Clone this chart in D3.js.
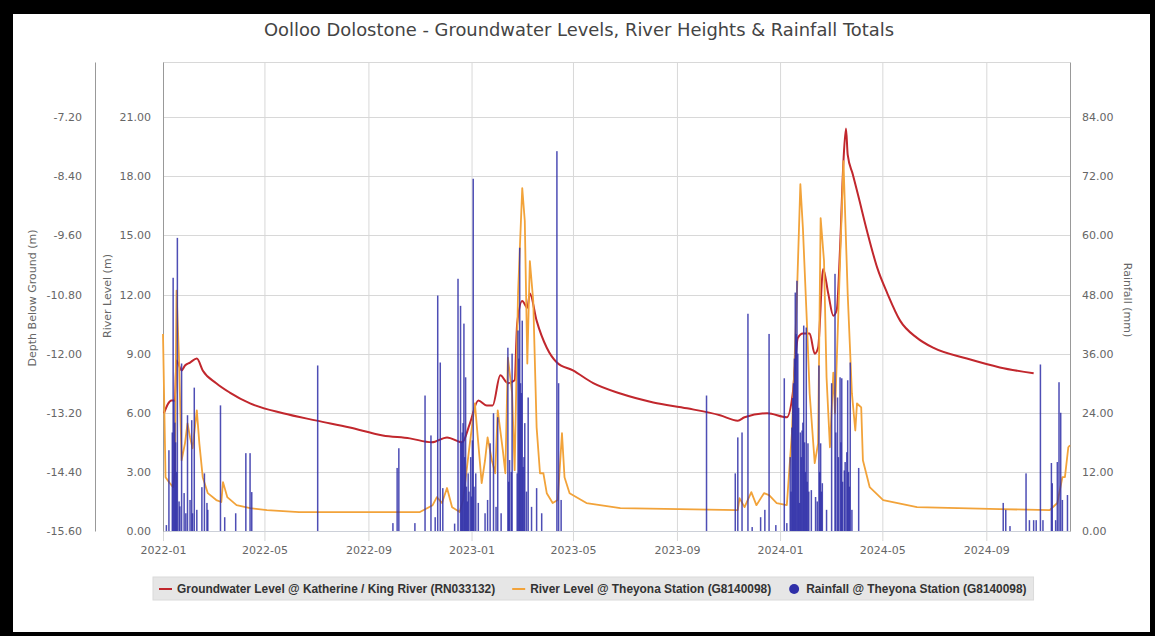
<!DOCTYPE html>
<html>
<head>
<meta charset="utf-8">
<script src="https://cdn.jsdelivr.net/npm/d3@7"></script>
<style>
    body { margin: 0; background: #000; }
    .chart { width: 1155px; height: 636px; }
</style>
</head>
<body>
<div class="chart"></div>
<script>
(function () {
    'use strict';

    // groundwater, depth below ground (m)
    const groundwater = [
        ['2022-01-02', -13.21], ['2022-01-11', -12.95], ['2022-01-15', -12.95], ['2022-01-17', -12.14],
        ['2022-01-23', -12.34], ['2022-01-27', -12.24], ['2022-02-02', -12.18], ['2022-02-10', -12.10],
        ['2022-02-17', -12.34], ['2022-03-05', -12.60], ['2022-03-21', -12.79], ['2022-04-14', -13.01],
        ['2022-05-23', -13.21], ['2022-07-02', -13.36], ['2022-08-10', -13.50], ['2022-09-18', -13.66],
        ['2022-10-20', -13.72], ['2022-11-15', -13.80], ['2022-12-03', -13.70], ['2022-12-21', -13.80],
        ['2022-12-30', -13.42], ['2023-01-09', -12.95], ['2023-01-19', -13.05], ['2023-01-26', -13.05],
        ['2023-02-04', -12.44], ['2023-02-13', -12.60], ['2023-02-21', -12.54], ['2023-02-24', -11.39],
        ['2023-03-02', -10.93], ['2023-03-08', -11.07], ['2023-03-11', -10.78], ['2023-03-19', -11.33],
        ['2023-03-31', -11.88], ['2023-04-12', -12.18], ['2023-05-01', -12.34], ['2023-05-25', -12.60],
        ['2023-06-26', -12.81], ['2023-08-04', -12.99], ['2023-09-13', -13.11], ['2023-10-22', -13.25],
        ['2023-11-12', -13.36], ['2023-11-20', -13.29], ['2023-12-17', -13.21], ['2024-01-09', -13.29],
        ['2024-01-16', -12.81], ['2024-01-22', -11.68], ['2024-01-28', -11.59], ['2024-02-05', -11.59],
        ['2024-02-11', -12.00], ['2024-02-15', -11.88], ['2024-02-21', -10.28], ['2024-02-27', -10.78],
        ['2024-03-04', -11.23], ['2024-03-08', -11.12], ['2024-03-12', -9.85], ['2024-03-16', -8.09],
        ['2024-03-19', -7.43], ['2024-03-21', -7.96], ['2024-03-27', -8.36], ['2024-04-02', -8.76],
        ['2024-04-13', -9.52], ['2024-04-25', -10.26], ['2024-05-07', -10.78], ['2024-05-22', -11.33],
        ['2024-06-11', -11.68], ['2024-06-30', -11.88], ['2024-08-09', -12.10], ['2024-09-17', -12.28],
        ['2024-10-27', -12.40]
    ];

    // river level (m)
    const riverLevel = [
        ['2022-01-01', 10.0], ['2022-01-04', 2.73], ['2022-01-09', 2.43], ['2022-01-13', 2.23],
        ['2022-01-15', 3.0], ['2022-01-17', 12.2], ['2022-01-20', 8.65], ['2022-01-23', 3.59],
        ['2022-01-27', 4.45], ['2022-01-30', 5.46], ['2022-02-02', 4.75], ['2022-02-05', 4.2],
        ['2022-02-10', 6.12], ['2022-02-13', 4.45], ['2022-02-17', 2.73], ['2022-02-23', 1.92],
        ['2022-03-05', 1.57], ['2022-03-11', 1.47], ['2022-03-13', 2.48], ['2022-03-18', 1.72],
        ['2022-03-29', 1.31], ['2022-04-14', 1.16], ['2022-05-04', 1.06], ['2022-06-11', 0.96],
        ['2022-11-01', 0.96], ['2022-11-16', 1.31], ['2022-11-21', 1.72], ['2022-11-27', 1.42],
        ['2022-12-03', 2.18], ['2022-12-09', 1.21], ['2022-12-18', 0.96], ['2022-12-22', 1.57],
        ['2022-12-30', 4.45], ['2023-01-05', 6.47], ['2023-01-09', 4.45], ['2023-01-13', 2.43],
        ['2023-01-17', 3.59], ['2023-01-20', 4.75], ['2023-01-25', 3.59], ['2023-01-29', 2.93],
        ['2023-02-01', 6.12], ['2023-02-07', 4.1], ['2023-02-10', 2.93], ['2023-02-13', 8.8],
        ['2023-02-18', 7.0], ['2023-02-21', 3.09], ['2023-02-25', 12.04], ['2023-03-02', 17.4],
        ['2023-03-05', 15.73], ['2023-03-08', 8.5], ['2023-03-11', 13.7], ['2023-03-15', 11.68],
        ['2023-03-19', 5.26], ['2023-03-23', 2.93], ['2023-03-27', 2.93], ['2023-03-31', 1.92],
        ['2023-04-07', 1.42], ['2023-04-13', 1.57], ['2023-04-18', 4.96], ['2023-04-21', 2.73],
        ['2023-04-27', 1.92], ['2023-05-17', 1.42], ['2023-06-26', 1.16], ['2023-11-12', 1.06],
        ['2023-11-14', 1.67], ['2023-11-20', 1.21], ['2023-11-28', 1.97], ['2023-12-04', 1.31],
        ['2023-12-13', 1.92], ['2023-12-19', 1.82], ['2023-12-28', 1.42], ['2024-01-09', 1.31],
        ['2024-01-15', 4.96], ['2024-01-21', 12.04], ['2024-01-25', 17.6], ['2024-01-28', 15.38],
        ['2024-02-02', 10.32], ['2024-02-05', 6.98], ['2024-02-11', 3.44], ['2024-02-15', 4.45],
        ['2024-02-18', 15.88], ['2024-02-22', 13.7], ['2024-02-25', 7.79], ['2024-02-29', 4.25],
        ['2024-03-04', 8.04], ['2024-03-06', 5.97], ['2024-03-12', 13.7], ['2024-03-16', 18.77],
        ['2024-03-21', 12.04], ['2024-03-26', 6.98], ['2024-03-30', 5.1], ['2024-04-01', 6.47],
        ['2024-04-06', 6.27], ['2024-04-08', 3.59], ['2024-04-16', 2.23], ['2024-05-02', 1.57],
        ['2024-06-11', 1.21], ['2024-09-17', 1.11], ['2024-11-15', 1.06], ['2024-11-24', 1.42],
        ['2024-11-30', 2.73], ['2024-12-03', 2.73], ['2024-12-07', 4.25], ['2024-12-09', 4.35]
    ];

    // daily rainfall (mm)
    const rainfall = [
        ['2022-01-05', 1.2], ['2022-01-08', 16.4], ['2022-01-12', 20.0], ['2022-01-13', 51.4],
        ['2022-01-14', 26.5], ['2022-01-15', 22.0], ['2022-01-16', 18.0], ['2022-01-17', 12.0],
        ['2022-01-18', 59.5], ['2022-01-20', 6.0], ['2022-01-21', 5.0], ['2022-01-23', 34.0],
        ['2022-01-26', 7.7], ['2022-01-28', 3.6], ['2022-01-30', 23.5], ['2022-02-02', 6.3],
        ['2022-02-04', 22.5], ['2022-02-05', 3.6], ['2022-02-07', 29.1], ['2022-02-10', 4.3],
        ['2022-02-16', 8.9], ['2022-02-19', 11.7], ['2022-02-22', 5.7], ['2022-02-23', 4.3],
        ['2022-03-10', 25.5], ['2022-03-15', 2.8], ['2022-03-28', 3.6], ['2022-04-09', 15.8],
        ['2022-04-14', 15.8], ['2022-04-16', 7.9], ['2022-07-03', 33.6],
        ['2022-09-30', 1.6], ['2022-10-05', 12.8], ['2022-10-07', 16.8], ['2022-10-26', 1.6],
        ['2022-11-07', 27.5], ['2022-11-14', 19.4], ['2022-11-19', 2.8], ['2022-11-22', 47.8],
        ['2022-11-25', 34.2], ['2022-11-28', 8.7], ['2022-12-12', 1.5], ['2022-12-16', 51.2],
        ['2022-12-19', 45.7], ['2022-12-20', 18.0], ['2022-12-21', 20.0], ['2022-12-22', 21.9],
        ['2022-12-23', 42.1], ['2022-12-24', 15.0], ['2022-12-25', 31.2], ['2022-12-26', 9.0],
        ['2022-12-27', 6.0], ['2022-12-28', 11.7], ['2022-12-29', 8.0], ['2022-12-31', 15.0],
        ['2023-01-01', 7.0], ['2023-01-02', 18.4], ['2023-01-03', 71.5], ['2023-01-04', 9.0],
        ['2023-01-06', 11.7], ['2023-01-09', 5.7], ['2023-01-17', 3.6], ['2023-01-20', 6.3],
        ['2023-01-23', 17.8], ['2023-01-27', 23.9], ['2023-01-30', 4.9], ['2023-02-01', 23.1],
        ['2023-02-05', 3.6], ['2023-02-13', 37.2], ['2023-02-14', 10.0], ['2023-02-15', 14.4],
        ['2023-02-17', 12.0], ['2023-02-18', 36.0], ['2023-02-24', 11.7], ['2023-02-25', 40.7],
        ['2023-02-26', 35.0], ['2023-02-27', 57.5], ['2023-02-28', 30.0], ['2023-03-01', 28.0],
        ['2023-03-02', 42.7], ['2023-03-03', 13.0], ['2023-03-04', 15.0], ['2023-03-05', 21.9],
        ['2023-03-07', 8.0], ['2023-03-09', 27.1], ['2023-03-13', 4.9], ['2023-03-19', 8.7],
        ['2023-03-25', 3.6], ['2023-04-12', 77.1], ['2023-04-14', 30.0], ['2023-04-17', 6.3],
        ['2023-10-06', 27.5], ['2023-11-09', 11.7], ['2023-11-12', 19.0], ['2023-11-17', 20.0],
        ['2023-11-24', 44.1], ['2023-11-29', 0.8], ['2023-12-09', 2.8], ['2023-12-14', 4.3],
        ['2023-12-19', 40.0], ['2023-12-27', 1.2], ['2024-01-06', 31.0], ['2024-01-09', 1.6],
        ['2024-01-13', 15.0], ['2024-01-14', 8.0], ['2024-01-15', 21.0], ['2024-01-16', 27.0],
        ['2024-01-17', 30.0], ['2024-01-18', 35.0], ['2024-01-19', 48.4], ['2024-01-20', 40.0],
        ['2024-01-21', 50.8], ['2024-01-22', 36.0], ['2024-01-23', 25.0], ['2024-01-24', 5.7],
        ['2024-01-25', 20.0], ['2024-01-26', 15.0], ['2024-01-27', 20.4], ['2024-01-28', 22.0],
        ['2024-01-29', 41.7], ['2024-01-30', 18.0], ['2024-01-31', 12.0], ['2024-02-01', 41.3],
        ['2024-02-02', 10.0], ['2024-02-03', 17.8], ['2024-02-04', 8.0], ['2024-02-07', 8.3],
        ['2024-02-12', 6.9], ['2024-02-14', 6.0], ['2024-02-16', 33.6], ['2024-02-17', 12.0],
        ['2024-02-18', 17.8], ['2024-02-19', 8.0], ['2024-02-20', 9.7], ['2024-02-25', 4.3],
        ['2024-03-02', 30.0], ['2024-03-06', 52.2], ['2024-03-07', 20.0], ['2024-03-09', 27.1],
        ['2024-03-10', 15.0], ['2024-03-12', 31.2], ['2024-03-13', 18.0], ['2024-03-14', 31.0],
        ['2024-03-15', 10.0], ['2024-03-17', 12.3], ['2024-03-18', 14.0], ['2024-03-20', 16.0],
        ['2024-03-21', 30.6], ['2024-03-22', 12.0], ['2024-03-23', 9.0], ['2024-03-24', 34.2],
        ['2024-03-26', 4.3], ['2024-04-03', 12.8],
        ['2024-09-21', 5.7], ['2024-09-24', 4.3], ['2024-09-29', 1.0], ['2024-10-18', 11.7],
        ['2024-10-22', 2.2], ['2024-10-27', 2.2], ['2024-10-30', 2.2], ['2024-11-04', 33.8],
        ['2024-11-07', 2.2], ['2024-11-17', 13.8], ['2024-11-18', 9.7], ['2024-11-22', 2.2],
        ['2024-11-24', 14.0], ['2024-11-26', 30.2], ['2024-11-28', 24.0], ['2024-11-30', 6.3],
        ['2024-12-06', 7.3]
    ];

    const xTicks = ['2022-01-01', '2022-05-01', '2022-09-01', '2023-01-01', '2023-05-01',
        '2023-09-01', '2024-01-01', '2024-05-01', '2024-09-01'];
    const riverTicks = [0, 3, 6, 9, 12, 15, 18, 21];
    const depthTicks = [-15.6, -14.4, -13.2, -12.0, -10.8, -9.6, -8.4, -7.2];
    const rainTicks = [0, 12, 24, 36, 48, 60, 72, 84];

    const titleText = 'Oolloo Dolostone - Groundwater Levels, River Heights & Rainfall Totals';
    const legendNames = [
        'Groundwater Level @ Katherine / King River (RN033132)',
        'River Level @ Theyona Station (G8140098)',
        'Rainfall @ Theyona Station (G8140098)'
    ];

    const font = '"DejaVu Sans", "Open Sans", sans-serif';
    const parse = d3.utcParse('%Y-%m-%d');

    const plot = { left: 163, right: 1070, top: 62, bottom: 531 };

    const svg = d3.select('.chart').append('svg')
        .attr('width', 1155)
        .attr('height', 636)
        .style('display', 'block');

    svg.append('rect').attr('width', 1155).attr('height', 636).attr('fill', '#000');
    svg.append('rect').attr('x', 13).attr('y', 14).attr('width', 1137).attr('height', 618).attr('fill', '#fff');

    const x = d3.scaleUtc()
        .domain([parse('2022-01-01'), parse('2024-12-09')])
        .range([plot.left, plot.right]);
    const yRiver = d3.scaleLinear().domain([0, 23.8]).range([plot.bottom, plot.top]);
    const yDepth = d3.scaleLinear().domain([-15.6, -15.6 + 0.4 * 23.8]).range([plot.bottom, plot.top]);
    const yRain = d3.scaleLinear().domain([0, 23.8 * 4]).range([plot.bottom, plot.top]);

    // horizontal grid
    svg.append('g').selectAll('line')
        .data(riverTicks.concat([23.8]))
        .enter().append('line')
        .attr('x1', plot.left).attr('x2', plot.right)
        .attr('y1', function (d) { return Math.round(yRiver(d)) + 0.5; })
        .attr('y2', function (d) { return Math.round(yRiver(d)) + 0.5; })
        .attr('stroke', '#d8d8d8');

    // x axis with vertical grid
    const xAxis = svg.append('g')
        .attr('transform', 'translate(0,' + plot.bottom + ')')
        .call(d3.axisBottom(x)
            .tickValues(xTicks.map(parse))
            .tickFormat(d3.utcFormat('%Y-%m'))
            .tickSizeInner(10)
            .tickSizeOuter(0)
            .tickPadding(5));
    xAxis.select('.domain').attr('stroke', '#ccd0d8');
    xAxis.selectAll('line').attr('stroke', '#d8d8d8').attr('y1', 10).attr('y2', plot.top - plot.bottom);
    xAxis.selectAll('text').attr('fill', '#666').style('font-family', font).style('font-size', '11px');

    const styleAxis = function (g) {
        g.select('.domain').attr('stroke', '#999');
        g.selectAll('text').attr('fill', '#666').style('font-family', font).style('font-size', '11px');
    };

    svg.append('g').attr('transform', 'translate(' + plot.left + ',0)')
        .call(d3.axisLeft(yRiver).tickValues(riverTicks).tickSize(0).tickPadding(12)
            .tickFormat(function (d) { return d.toFixed(2); }))
        .call(styleAxis);

    svg.append('g').attr('transform', 'translate(95,0)')
        .call(d3.axisLeft(yDepth).tickValues(depthTicks).tickSize(0).tickPadding(13)
            .tickFormat(function (d) { return d.toFixed(2); }))
        .call(styleAxis);

    svg.append('g').attr('transform', 'translate(' + plot.right + ',0)')
        .call(d3.axisRight(yRain).tickValues(rainTicks).tickSize(0).tickPadding(12)
            .tickFormat(function (d) { return d.toFixed(2); }))
        .call(styleAxis);

    // axis titles
    const axisTitle = function (tx, ty, rot, label) {
        svg.append('text')
            .attr('transform', 'translate(' + tx + ',' + ty + ') rotate(' + rot + ')')
            .attr('text-anchor', 'middle')
            .attr('fill', '#666')
            .style('font-family', font)
            .style('font-size', '11px')
            .text(label);
    };
    axisTitle(36, 298, -90, 'Depth Below Ground (m)');
    axisTitle(111, 296, -90, 'River Level (m)');
    axisTitle(1124, 300, 90, 'Rainfall (mm)');

    // series
    const holder = svg.append('g');

    holder.append('path')
        .datum(groundwater)
        .attr('fill', 'none')
        .attr('stroke', '#c1272d')
        .attr('stroke-width', 2)
        .attr('stroke-linejoin', 'round')
        .attr('d', d3.line()
            .curve(d3.curveMonotoneX)
            .x(function (d) { return x(parse(d[0])); })
            .y(function (d) { return yDepth(d[1]); }));

    holder.append('path')
        .datum(riverLevel)
        .attr('fill', 'none')
        .attr('stroke', '#f2a33a')
        .attr('stroke-width', 1.8)
        .attr('stroke-linejoin', 'round')
        .attr('d', d3.line()
            .x(function (d) { return x(parse(d[0])); })
            .y(function (d) { return yRiver(d[1]); }));

    holder.append('g').selectAll('rect')
        .data(rainfall)
        .enter().append('rect')
        .attr('x', function (d) { return x(parse(d[0])) - 0.75; })
        .attr('width', 1.5)
        .attr('y', function (d) { return yRain(d[1]); })
        .attr('height', function (d) { return plot.bottom - yRain(d[1]); })
        .attr('fill', '#2f2fa8')
        .attr('opacity', 0.85);

    // title
    svg.append('text')
        .attr('x', 579).attr('y', 36)
        .attr('text-anchor', 'middle')
        .attr('fill', '#444')
        .style('font-family', font)
        .style('font-size', '17.9px')
        .text(titleText);

    // legend
    const legend = svg.append('g');
    const legendBox = legend.append('rect')
        .attr('x', 153).attr('y', 577).attr('height', 23)
        .attr('fill', '#e6e6e6').attr('stroke', '#dadada');

    const legendColors = ['#c1272d', '#f2a33a', '#2f2fa8'];
    const legendFont = '"Liberation Sans", Arial, sans-serif';
    let cursor = 159;
    legendNames.forEach(function (name, i) {
        if (i < 2) {
            legend.append('line')
                .attr('x1', cursor).attr('x2', cursor + 13)
                .attr('y1', 589).attr('y2', 589)
                .attr('stroke', legendColors[i]).attr('stroke-width', 2);
        } else {
            legend.append('circle')
                .attr('cx', cursor + 6).attr('cy', 589).attr('r', 5)
                .attr('fill', legendColors[i]);
        }
        const t = legend.append('text')
            .attr('x', cursor + 18).attr('y', 593)
            .attr('fill', '#333')
            .style('font-family', legendFont)
            .style('font-size', '11.9px')
            .style('font-weight', 'bold')
            .text(name);
        cursor = cursor + 18 + t.node().getComputedTextLength() + 17;
    });
    legendBox.attr('width', cursor - 17 + 7 - 153);
}());
</script>
</body>
</html>
